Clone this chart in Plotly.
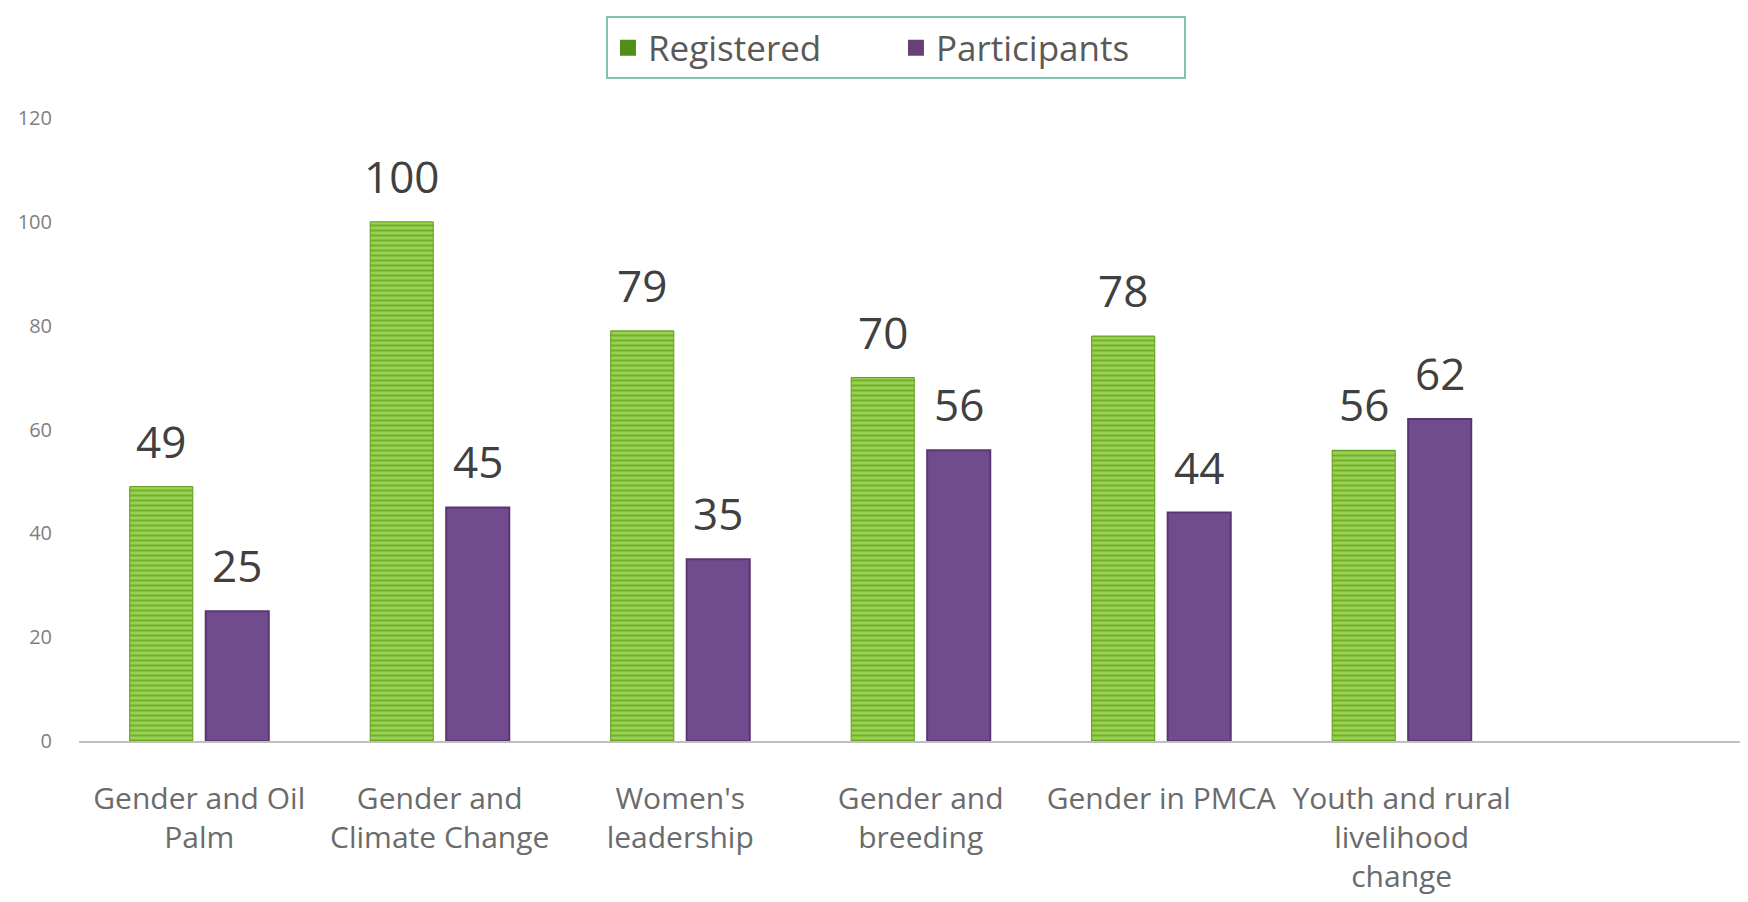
import plotly.graph_objects as go

categories = ["Gender and Oil<br>Palm", "Gender and<br>Climate Change", "Women's<br>leadership",
              "Gender and<br>breeding", "Gender in PMCA", "Youth and rural<br>livelihood<br>change"]
registered = [49, 100, 79, 70, 78, 56]
participants = [25, 45, 35, 56, 44, 62]
y_ticks = [0, 20, 40, 60, 80, 100, 120]

FONT = "Open Sans"
GREEN_BG = "#9ad250"
GREEN_FG = "#4a8a10"
PURPLE = "#724b8f"

fig = go.Figure()
fig.add_trace(go.Bar(
    name="Registered", x=categories, y=registered, showlegend=False,
    marker=dict(color=GREEN_BG, line=dict(color="#5d9a1e", width=1),
                pattern=dict(shape="-", fgcolor=GREEN_FG, bgcolor=GREEN_BG, size=5, solidity=0.4)),
))
fig.add_trace(go.Bar(
    name="Participants", x=categories, y=participants, showlegend=False,
    marker=dict(color=PURPLE, line=dict(color="#5a3670", width=2)),
))
# legend entries with larger square swatches
fig.add_trace(go.Scatter(name="Registered", x=[None], y=[None], mode="markers",
                         marker=dict(symbol="square", size=20, color="#4f8f16")))
fig.add_trace(go.Scatter(name="Participants", x=[None], y=[None], mode="markers",
                         marker=dict(symbol="square", size=20, color="#6a3f78")))

annotations = []
for series, shift in ((registered, -38), (participants, 38)):
    for c, v in zip(categories, series):
        annotations.append(dict(x=c, y=v, xref="x", yref="y", text=str(v), showarrow=False,
                                xshift=shift, yshift=14, yanchor="bottom",
                                font=dict(family=FONT, size=44, color="#404040")))

fig.update_layout(
    width=1748, height=902,
    margin=dict(l=71, r=8, t=107, b=169),
    paper_bgcolor="white", plot_bgcolor="white",
    barmode="group", bargap=0.368, bargroupgap=0.17,
    font=dict(family=FONT, color="#595959"),
    showlegend=True,
    legend=dict(orientation="h", x=0.4895, xanchor="center", y=1.163, yanchor="top",
                bordercolor="#7fc4ad", borderwidth=2, bgcolor="white",
                entrywidth=243, itemwidth=30,
                font=dict(family=FONT, size=35, color="#595959")),
    annotations=annotations,
)
fig.update_xaxes(range=[-0.5, 6.44], showline=True, linecolor="#bfbfbf", linewidth=2,
                 showgrid=False, ticks="", ticklabelstandoff=30,
                 tickfont=dict(family=FONT, size=30, color="#6b6b6b"))
fig.update_yaxes(range=[0, 120], tickvals=y_ticks, showgrid=False, zeroline=False,
                 showline=False, ticks="", ticklabelstandoff=26,
                 tickfont=dict(family=FONT, size=20, color="#7f7f7f"))

fig.write_html("out.html")
